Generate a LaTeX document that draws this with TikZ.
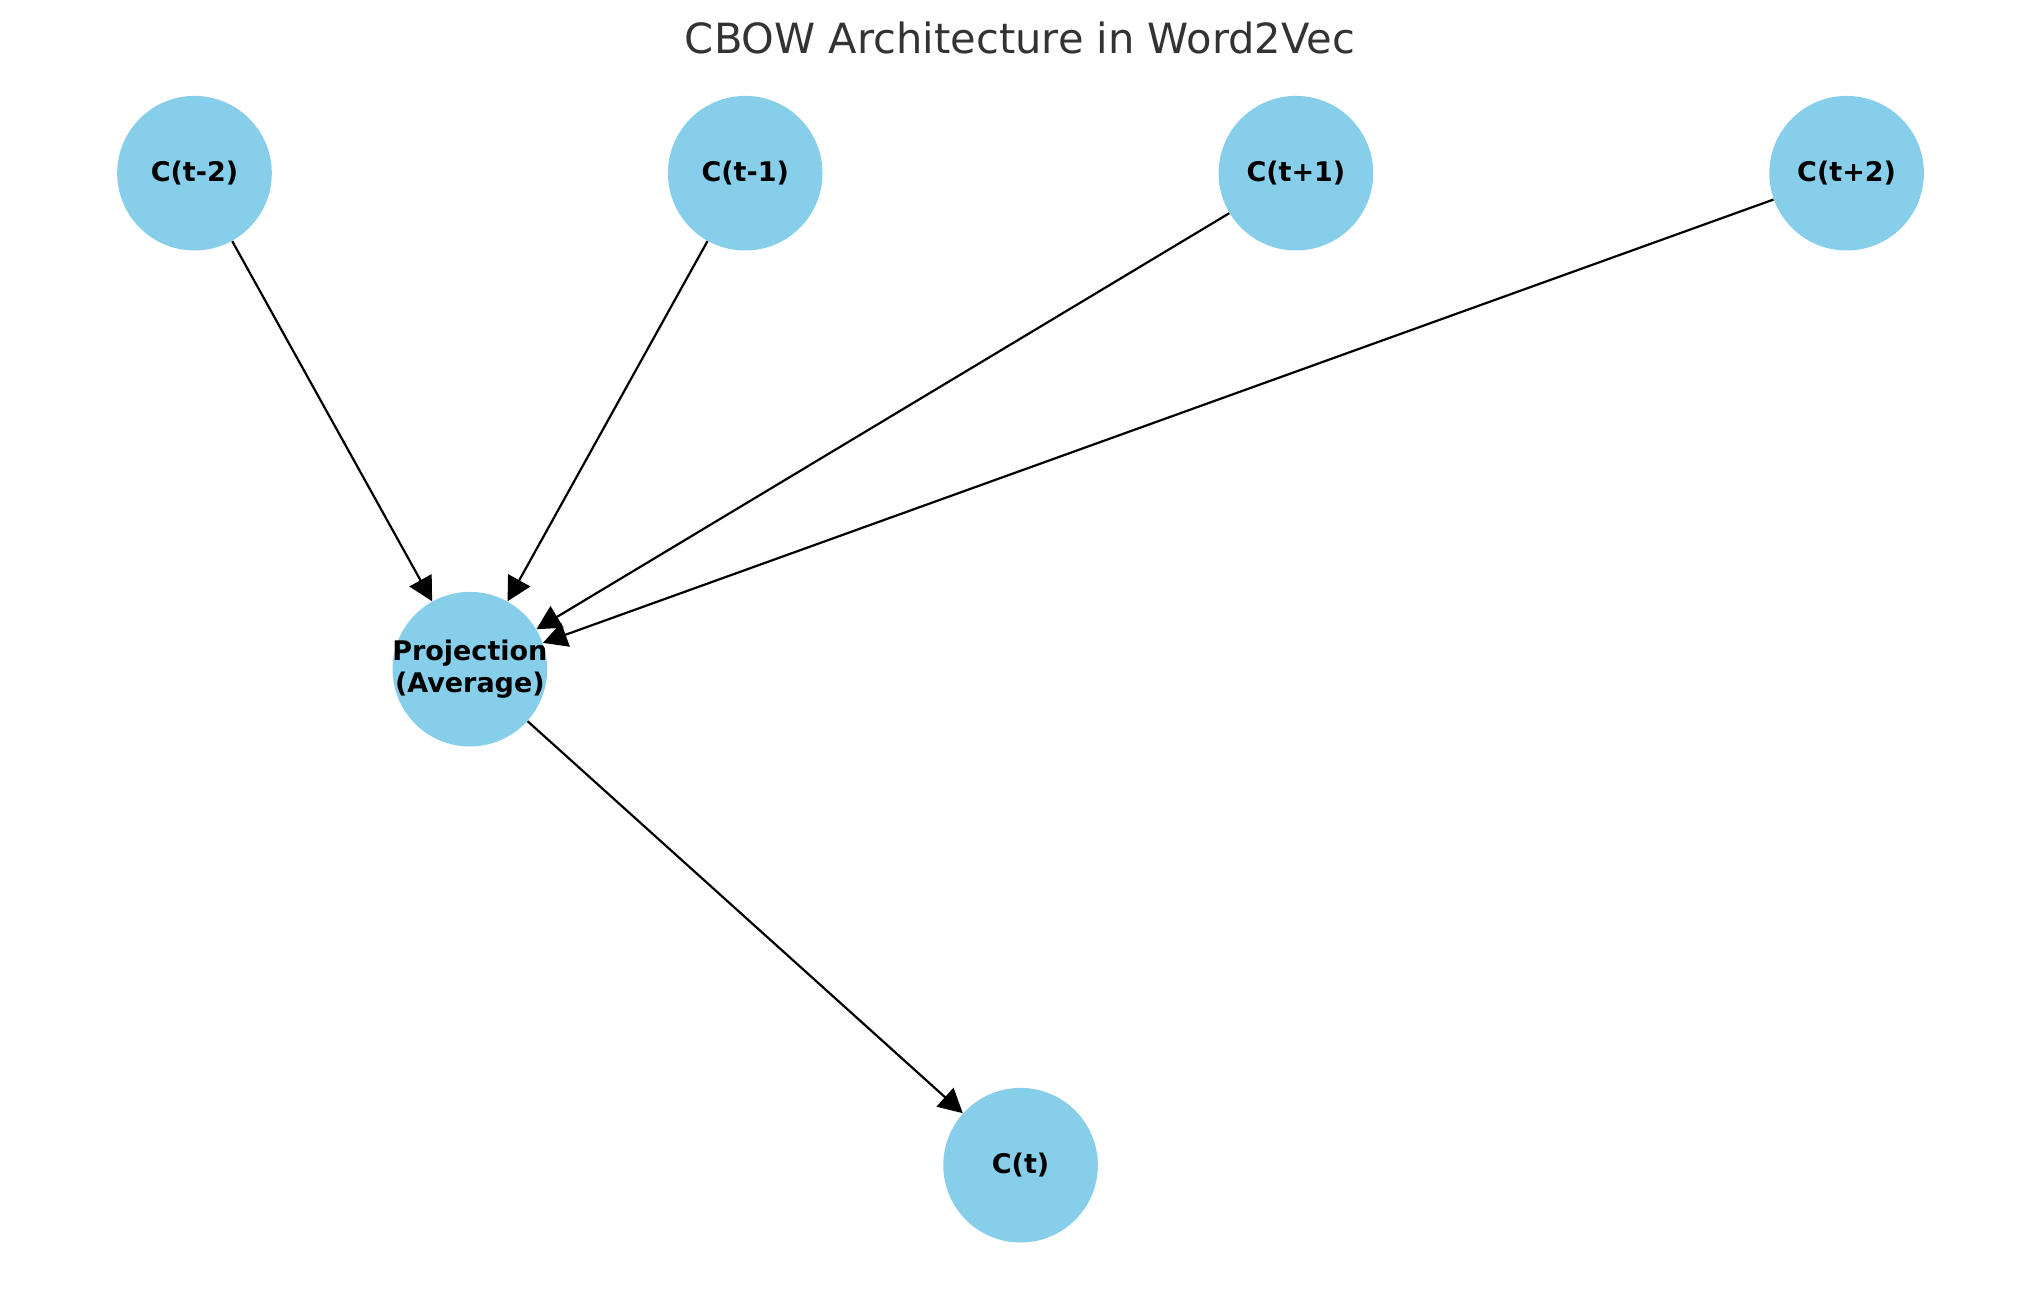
\documentclass[tikz,border=0pt]{standalone}
\usepackage{fontspec}
\setmainfont{DejaVu Sans}
\usepackage{tikz}
\usetikzlibrary{positioning,arrows.meta}
\definecolor{skyblue}{RGB}{135,206,235}
\definecolor{titlegray}{HTML}{333333}

\begin{document}
\begin{tikzpicture}[x=1pt,y=1pt,on grid,
        word/.style={circle,fill=skyblue,inner sep=0pt,minimum size=77.3pt,
            font=\fontsize{13.5}{16}\selectfont\bfseries},
        arc/.style={-{Triangle[length=12pt,width=12.5pt]},line width=1.1pt}]
        \useasboundingbox (0,0) rectangle (1019.5,-644.5);

        \node[font=\fontsize{20.8}{24}\selectfont,text=titlegray,anchor=base] (title) at (510,-26.8) {CBOW Architecture in Word2Vec};

        \node[word] (cm2) at (97.25,-86.6) {C(t-2)};
        \node[word] (cm1) [right=275.35pt of cm2] {C(t-1)};
        \node[word] (cp1) [right=275.35pt of cm1] {C(t+1)};
        \node[word] (cp2) [right=275.35pt of cp1] {C(t+2)};
        \node[word] (proj) [below right=248pt and 137.675pt of cm2] {};
        \node[align=center,font=\fontsize{13.5}{16}\selectfont\bfseries] (projtext) at (proj) {Projection\\(Average)};
        \node[word] (ct) [below right=248pt and 275.35pt of proj] {C(t)};

        \draw[arc] (cm2) -- (proj);
        \draw[arc] (cm1) -- (proj);
        \draw[arc] (cp1) -- (proj);
        \draw[arc] (cp2) -- (proj);
        \draw[arc] (proj) -- (ct);
    \end{tikzpicture}
\end{document}
